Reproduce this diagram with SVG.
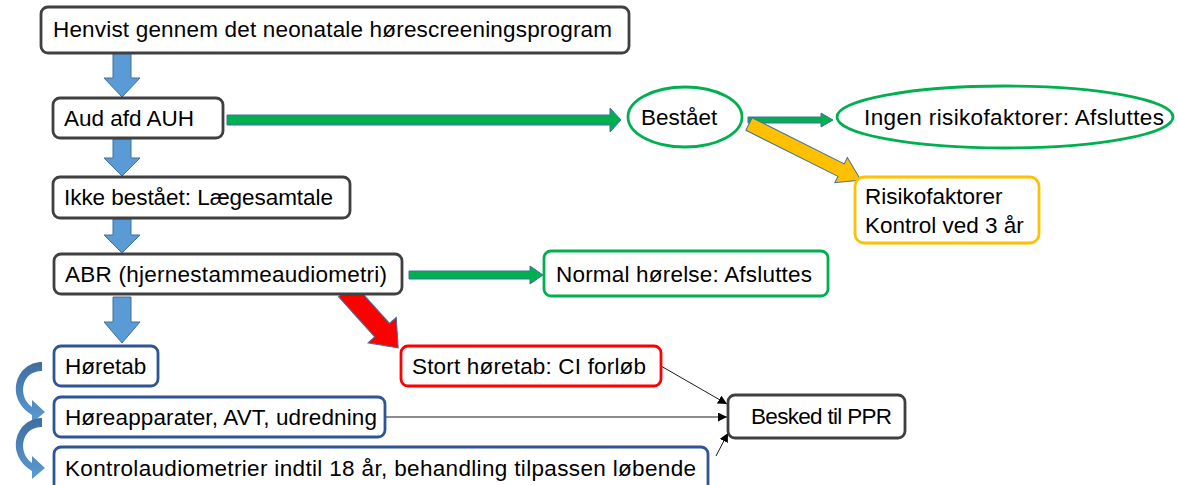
<svg xmlns="http://www.w3.org/2000/svg" width="1178" height="485" viewBox="0 0 1178 485">
<style>
text{font-family:"Liberation Sans",Arial,sans-serif;font-size:22.5px;fill:#000}
.bx{fill:#fff;stroke-width:2.8}
.dk{stroke:#404040}
.gr{stroke:#00B050}
.ye{stroke:#FFC000}
.rd{stroke:#FF0000}
.bl{stroke:#2F5597}
.ba{fill:#5B9BD5;stroke:#41719C;stroke-width:1}
.ga{fill:#00B050;stroke:#41719C;stroke-width:1}
.ya{fill:#FFC000;stroke:#41719C;stroke-width:1}
.ra{fill:#FF0000;stroke:#41719C;stroke-width:1}
.ca{fill:url(#cg);stroke:none}
.ln{stroke:#1a1a1a;stroke-width:1;fill:none;marker-end:url(#ah)}
</style>
<defs>
<marker id="ah" viewBox="0 0 10 10" refX="10" refY="5" markerWidth="9" markerHeight="9" markerUnits="userSpaceOnUse" orient="auto">
<path d="M0,0 L10,5 L0,10 Z" fill="#000"/>
</marker>
<linearGradient id="cg" x1="0" y1="0" x2="0" y2="1">
<stop offset="0" stop-color="#3E6E9E"/>
<stop offset="1" stop-color="#5B9BD5"/>
</linearGradient>
</defs>

<g id="connectors">
<!-- blue down arrows -->
<path class="ba" d="M113,51 L131,51 L131,78 L140,78 L122,97 L104,78 L113,78 Z"/>
<path class="ba" d="M113,139 L131,139 L131,158 L140,158 L122,176 L104,158 L113,158 Z"/>
<path class="ba" d="M113,219 L131,219 L131,235 L140,235 L122,253 L104,235 L113,235 Z"/>
<path class="ba" d="M113,297 L131,297 L131,322 L140,322 L122,343 L104,322 L113,322 Z"/>
<!-- green arrows -->
<path class="ga" d="M227,115 L610,115 L610,108 L621,120 L610,132 L610,125 L227,125 Z"/>
<path class="ga" d="M748,117 L821,117 L821,113 L833,120 L821,127 L821,123 L748,123 Z"/>
<path class="ga" d="M409,271 L530,271 L530,266 L543,275 L530,284 L530,279 L409,279 Z"/>
<!-- yellow arrow -->
<path class="ya" transform="translate(749,124) rotate(26.6)" d="M0,-7 L103,-7 L103,-14 L125,0 L103,14 L103,7 L0,7 Z"/>
<!-- red arrow -->
<path class="ra" transform="translate(346,290) rotate(48)" d="M0,-10 L54,-10 L54,-19 L78,0 L54,19 L54,10 L0,10 Z"/>
<!-- curved arrows -->
<path class="ca" d="M42,362 C16,362 4,398 32,415 L32,423 L45,412 L32,400 L32,407 C18,398 20,371 42,371 Z"/>
<path class="ca" transform="translate(0,56)" d="M42,362 C16,362 4,398 32,415 L32,423 L45,412 L32,400 L32,407 C18,398 20,371 42,371 Z"/>
<!-- thin connectors to PPR -->
<line class="ln" x1="661" y1="366" x2="727" y2="404"/>
<line class="ln" x1="386" y1="417" x2="727" y2="417"/>
<line class="ln" x1="716" y1="456" x2="728" y2="433"/>
</g>

<g id="n-henvist"><rect class="bx dk" x="41" y="7" width="588" height="46" rx="7"/><text x="53" y="37" textLength="559">Henvist gennem det neonatale hørescreeningsprogram</text></g>
<g id="n-aud"><rect class="bx dk" x="53" y="98" width="170" height="40" rx="7"/><text x="64" y="126">Aud afd AUH</text></g>
<g id="n-bestaaet"><ellipse class="bx gr" cx="685" cy="117" rx="57" ry="30"/><text x="641" y="125">Bestået</text></g>
<g id="n-ingen"><ellipse class="bx gr" cx="1005" cy="117" rx="168" ry="31"/><text x="864" y="125" textLength="300">Ingen risikofaktorer: Afsluttes</text></g>
<g id="n-risiko"><rect class="bx ye" x="855" y="177" width="184" height="66" rx="9"/><text x="865" y="204">Risikofaktorer</text><text x="865" y="233">Kontrol ved 3 år</text></g>
<g id="n-ikke"><rect class="bx dk" x="53" y="177" width="297" height="41" rx="7"/><text x="64" y="205" textLength="269">Ikke bestået: Lægesamtale</text></g>
<g id="n-abr"><rect class="bx dk" x="54" y="254" width="348" height="40" rx="7"/><text x="65" y="282" textLength="322">ABR (hjernestammeaudiometri)</text></g>
<g id="n-normal"><rect class="bx gr" x="544" y="251" width="284" height="45" rx="7"/><text x="556" y="282" textLength="256">Normal hørelse: Afsluttes</text></g>
<g id="n-stort"><rect class="bx rd" x="401" y="346" width="260" height="40" rx="7"/><text x="412" y="374" textLength="234">Stort høretab: CI forløb</text></g>
<g id="n-horetab"><rect class="bx bl" x="54" y="346" width="104" height="40" rx="7"/><text x="65" y="374">Høretab</text></g>
<g id="n-horeapp"><rect class="bx bl" x="54" y="397" width="331" height="40" rx="7"/><text x="65" y="425" textLength="312">Høreapparater, AVT, udredning</text></g>
<g id="n-kontrol"><rect class="bx bl" x="54" y="447" width="654" height="46" rx="7"/><text x="65" y="476" textLength="631">Kontrolaudiometrier indtil 18 år, behandling tilpassen løbende</text></g>
<g id="n-ppr"><rect class="bx dk" x="728" y="395" width="177" height="43" rx="7"/><text x="751" y="424" textLength="141">Besked til PPR</text></g>
</svg>
